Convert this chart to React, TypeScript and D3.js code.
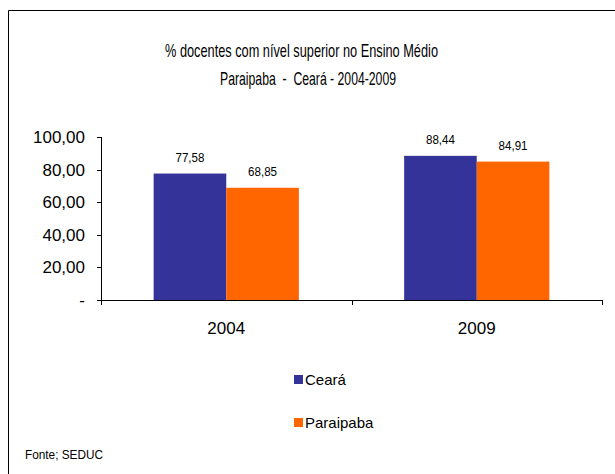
import React from "react";
import * as d3 from "d3";

const categories = ["2004", "2009"];
const seriesNames = ["Ceará", "Paraipaba"];
const cearaValues = [77.58, 88.44];
const paraipabaValues = [68.85, 84.91];
const seriesColors = ["#333399", "#FF6600"];
const yTicks = [0, 20, 40, 60, 80, 100];

const W = 615;
const H = 474;
const FONT = "'Liberation Sans', Arial, sans-serif";

const fmt = (v: number) => (v === 0 ? "-" : v.toFixed(2).replace(".", ","));

export default function App() {
  const x0 = d3.scaleBand().domain(categories).range([101, 602]).paddingInner(0).paddingOuter(0);
  const y = d3.scaleLinear().domain([0, 100]).range([300, 137]);
  const inner = d3
    .scaleBand()
    .domain(seriesNames)
    .range([0, x0.bandwidth()])
    .paddingOuter(0.725)
    .paddingInner(0);
  const series = [cearaValues, paraipabaValues];

  return (
    <svg
      width={W}
      height={H}
      style={{ position: "absolute", left: 0, top: 0, background: "#fff" }}
      fontFamily={FONT}
    >
      <rect x={0} y={0} width={W} height={H} fill="#fff" />
      <line x1={8.5} y1={10.5} x2={W} y2={10.5} stroke="#000" strokeWidth={1} />
      <line x1={8.5} y1={10.5} x2={8.5} y2={H} stroke="#000" strokeWidth={1} />

      <text x={165} y={57} fontSize={18.5} fill="#000" textLength={273} lengthAdjust="spacingAndGlyphs">
        % docentes com nível  superior no Ensino Médio
      </text>
      <text x={220} y={85} fontSize={18.5} fill="#000" textLength={176} lengthAdjust="spacingAndGlyphs" style={{ whiteSpace: "pre" }}>
        {"Paraipaba  -  Ceará - 2004-2009"}
      </text>

      {categories.map((c, ci) =>
        series.map((vals, si) => (
          <rect
            key={c + si}
            x={(x0(c) as number) + (inner(seriesNames[si]) as number)}
            y={y(vals[ci])}
            width={inner.bandwidth()}
            height={y(0) - y(vals[ci])}
            fill={seriesColors[si]}
          />
        ))
      )}

      {categories.map((c, ci) =>
        series.map((vals, si) => (
          <text
            key={"l" + c + si}
            x={(x0(c) as number) + (inner(seriesNames[si]) as number) + inner.bandwidth() / 2}
            y={y(vals[ci]) - 12}
            textAnchor="middle"
            fontSize={13}
            fill="#000"
            textLength={29}
            lengthAdjust="spacingAndGlyphs"
          >
            {fmt(vals[ci])}
          </text>
        ))
      )}

      {/* y axis */}
      <line x1={101.5} y1={y(100)} x2={101.5} y2={y(0)} stroke="#000" />
      {yTicks.map((t) => (
        <g key={t}>
          <line x1={97} x2={101.5} y1={Math.round(y(t)) + 0.5} y2={Math.round(y(t)) + 0.5} stroke="#000" />
          <text x={85} y={y(t) + 6} textAnchor="end" fontSize={17} fill="#000">
            {fmt(t)}
          </text>
        </g>
      ))}

      {/* x axis */}
      <line x1={101.5} y1={y(0) + 0.5} x2={602} y2={y(0) + 0.5} stroke="#000" />
      {[...categories.map((c) => x0(c) as number), 602].map((xv, i) => (
        <line key={"xt" + i} x1={Math.round(xv) + 0.5} x2={Math.round(xv) + 0.5} y1={y(0)} y2={y(0) + 5} stroke="#000" />
      ))}
      {categories.map((c) => (
        <text
          key={"c" + c}
          x={(x0(c) as number) + x0.bandwidth() / 2}
          y={334}
          textAnchor="middle"
          fontSize={17}
          fill="#000"
        >
          {c}
        </text>
      ))}

      {/* legend */}
      {seriesNames.map((s, i) => (
        <g key={"lg" + s}>
          <rect x={294} y={375 + i * 43} width={9} height={9} fill={seriesColors[i]} />
          <text x={305} y={385 + i * 43} fontSize={15} fill="#000">
            {s}
          </text>
        </g>
      ))}

      <text x={25} y={459} fontSize={13.5} fill="#000" textLength={78} lengthAdjust="spacingAndGlyphs">
        Fonte; SEDUC
      </text>
    </svg>
  );
}
